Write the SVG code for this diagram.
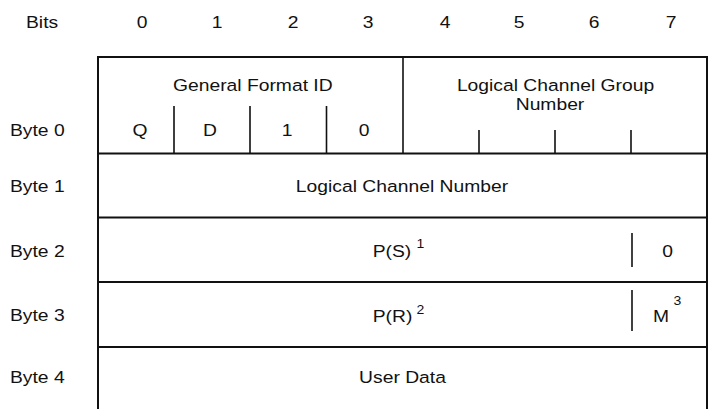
<svg xmlns="http://www.w3.org/2000/svg" width="708" height="409" viewBox="0 0 708 409">
  <style>
    .frame { stroke: #111; stroke-width: 2; fill: none; stroke-linecap: square; }
    .div { stroke: #111; stroke-width: 1.6; fill: none; }
    text { font-family: "Liberation Sans", Arial, sans-serif; font-size: 16.5px; fill: #111; }
    .c { text-anchor: middle; }
    .sup { font-size: 12px; }
  </style>
  <rect width="708" height="409" fill="#fff"/>

  <!-- bit number header -->
  <g id="bits-header">
    <text transform="translate(26 28) scale(1.17 1)">Bits</text>
    <text class="c" transform="translate(142 28) scale(1.17 1)">0</text>
    <text class="c" transform="translate(217 28) scale(1.17 1)">1</text>
    <text class="c" transform="translate(293 28) scale(1.17 1)">2</text>
    <text class="c" transform="translate(368 28) scale(1.17 1)">3</text>
    <text class="c" transform="translate(445 28) scale(1.17 1)">4</text>
    <text class="c" transform="translate(519 28) scale(1.17 1)">5</text>
    <text class="c" transform="translate(594 28) scale(1.17 1)">6</text>
    <text class="c" transform="translate(671 28) scale(1.17 1)">7</text>
  </g>

  <!-- outer frame and byte separators -->
  <g id="frame">
    <path class="frame" d="M98 409 V57 H707 V409"/>
    <path class="frame" d="M98 153.5 H707 M98 217.5 H707 M98 282 H707 M98 347 H707"/>
  </g>

  <!-- byte 0 -->
  <g id="byte0">
    <text transform="translate(10 135.7) scale(1.17 1)">Byte 0</text>
    <path class="div" d="M403 57 V153.5"/>
    <path class="div" d="M174 106 V153.5 M250 106 V153.5 M326.5 106 V153.5"/>
    <path class="div" d="M479 130 V153.5 M555 130 V153.5 M631 130 V153.5"/>
    <text class="c" transform="translate(252.8 90.7) scale(1.17 1)">General Format ID</text>
    <text class="c" transform="translate(555.5 90.7) scale(1.17 1)">Logical Channel Group</text>
    <text class="c" transform="translate(550 110) scale(1.17 1)">Number</text>
    <text class="c" transform="translate(140 135.7) scale(1.17 1)">Q</text>
    <text class="c" transform="translate(210 135.7) scale(1.17 1)">D</text>
    <text class="c" transform="translate(287 135.7) scale(1.17 1)">1</text>
    <text class="c" transform="translate(364 135.7) scale(1.17 1)">0</text>
  </g>

  <!-- byte 1 -->
  <g id="byte1">
    <text transform="translate(10 192) scale(1.17 1)">Byte 1</text>
    <text class="c" transform="translate(402 191.7) scale(1.17 1)">Logical Channel Number</text>
  </g>

  <!-- byte 2 -->
  <g id="byte2">
    <text transform="translate(10 256.5) scale(1.17 1)">Byte 2</text>
    <text transform="translate(372.7 256.7) scale(1.17 1)">P(S)</text>
    <text class="sup" transform="translate(416.5 248) scale(1.17 1)">1</text>
    <path class="div" d="M632 233 V267"/>
    <text class="c" transform="translate(667.7 256.7) scale(1.17 1)">0</text>
  </g>

  <!-- byte 3 -->
  <g id="byte3">
    <text transform="translate(10 321) scale(1.17 1)">Byte 3</text>
    <text transform="translate(372.7 322) scale(1.17 1)">P(R)</text>
    <text class="sup" transform="translate(416.5 314.3) scale(1.17 1)">2</text>
    <path class="div" d="M632 290 V331"/>
    <text transform="translate(653 322) scale(1.17 1)">M</text>
    <text class="sup" transform="translate(673.5 305) scale(1.17 1)">3</text>
  </g>

  <!-- byte 4 -->
  <g id="byte4">
    <text transform="translate(10 383) scale(1.17 1)">Byte 4</text>
    <text class="c" transform="translate(402.5 383) scale(1.17 1)">User Data</text>
  </g>
</svg>
